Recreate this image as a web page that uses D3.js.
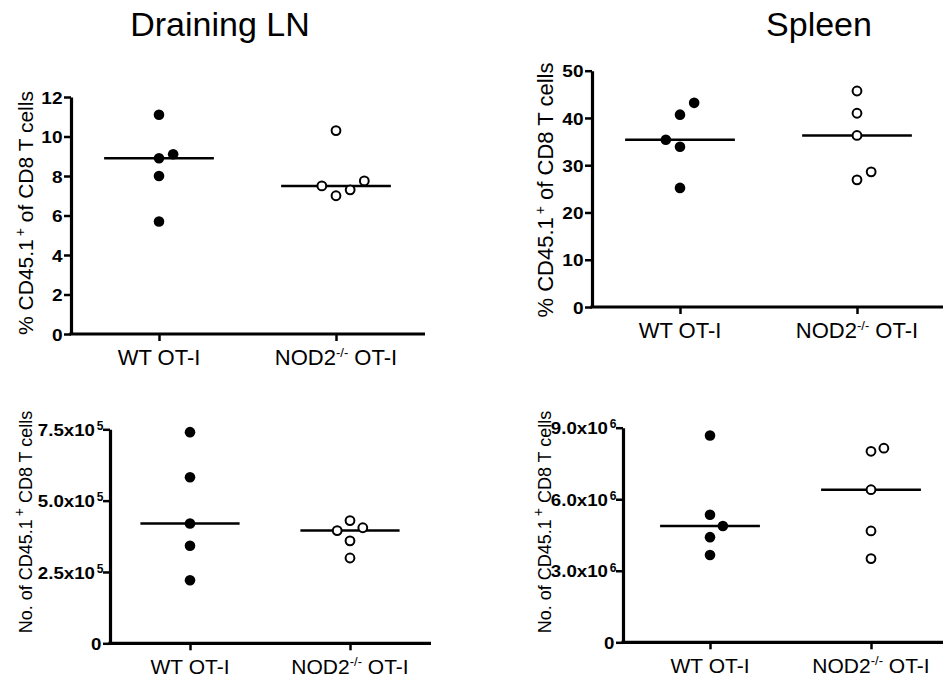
<!DOCTYPE html>
<html>
<head>
<meta charset="utf-8">
<script src="https://cdn.jsdelivr.net/npm/d3@7"></script>
<style>
  body { margin: 0; background: #fff; }
  svg { display: block; }
  text { font-family: "Liberation Sans", Arial, Helvetica, sans-serif; fill: #000; }
</style>
</head>
<body>
<div id="fig"></div>
<script>
// categories and titles
var categories = ["WT OT-I", "NOD2-/- OT-I"];
var columnTitles = ["Draining LN", "Spleen"];
var pctTitle = "% CD45.1+ of CD8 T cells";
var numTitle = "No. of CD45.1+ CD8 T cells";

// % CD45.1+ of CD8 T cells
var lnPctWT = [11.1, 8.9, 8.0, 5.7, 9.1];
var lnPctNOD2 = [10.3, 7.0, 7.3, 7.5, 7.75];
var spPctWT = [40.7, 43.2, 33.9, 35.4, 25.2];
var spPctNOD2 = [45.7, 41.0, 36.3, 26.9, 28.6];

// No. of CD45.1+ CD8 T cells
var lnNumWT = [7.4e5, 5.82e5, 4.2e5, 3.42e5, 2.21e5];
var lnNumNOD2 = [4.30e5, 4.05e5, 3.95e5, 3.59e5, 2.99e5];
var spNumWT = [8.67e6, 5.35e6, 4.41e6, 3.66e6, 4.88e6];
var spNumNOD2 = [8.01e6, 8.14e6, 6.4e6, 4.67e6, 3.51e6];

// tick values
var lnPctTicks = [0, 2, 4, 6, 8, 10, 12];
var spPctTicks = [0, 10, 20, 30, 40, 50];
var lnNumTicks = [0, 2.5e5, 5e5, 7.5e5];
var spNumTicks = [0, 3e6, 6e6, 9e6];

var width = 943, height = 681;

var svg = d3.select("#fig")
  .append("svg")
    .attr("width", width)
    .attr("height", height);

svg.append("rect").attr("width", width).attr("height", height).attr("fill", "#fff");

// column titles
svg.selectAll(".coltitle")
  .data(columnTitles)
  .enter().append("text")
    .attr("x", function(d, i) { return i == 0 ? 220 : 819; })
    .attr("y", 36)
    .attr("text-anchor", "middle")
    .attr("font-size", 34)
    .text(function(d) { return d; });

var panels = [
  {groups: [lnPctWT, lnPctNOD2], ticks: lnPctTicks, sci: false, title: pctTitle,
   left: 71, right: 425, top: 97, bottom: 334, cats: [159, 336],
   titleX: 33, titleY: 213, titleSize: 21, labelSize: 22, tickFont: 17},
  {groups: [spPctWT, spPctNOD2], ticks: spPctTicks, sci: false, title: pctTitle,
   left: 592, right: 943, top: 70.7, bottom: 307, cats: [680, 857],
   titleX: 553, titleY: 190, titleSize: 22, labelSize: 22, tickFont: 17},
  {groups: [lnNumWT, lnNumNOD2], ticks: lnNumTicks, sci: true, title: numTitle,
   left: 110, right: 431, top: 429.3, bottom: 643.3, cats: [190, 350],
   titleX: 31.5, titleY: 522, titleSize: 18, labelSize: 21, tickFont: 17},
  {groups: [spNumWT, spNumNOD2], ticks: spNumTicks, sci: true, title: numTitle,
   left: 623, right: 943, top: 427.7, bottom: 642.3, cats: [710, 871],
   titleX: 551, titleY: 522, titleSize: 18, labelSize: 21, tickFont: 17}
];

// simple beeswarm: points that overlap in the same column get pushed sideways
var swarm = function(values, y, step) {
  var placed = [];
  var sign = 1;
  return values.map(function(v) {
    var yy = y(v);
    var slots = [0, sign, -sign, 2 * sign, -2 * sign, 3 * sign, -3 * sign];
    var slot = 0;
    for (var k = 0; k < slots.length; k++) {
      var hit = placed.some(function(p) { return p.slot == slots[k] && Math.abs(p.y - yy) < 16; });
      if (!hit) { slot = slots[k]; break; }
    }
    if (slot != 0) sign = -sign;
    placed.push({slot: slot, y: yy});
    return slot * step;
  });
};

var drawPanel = function(p) {
  var y = d3.scaleLinear()
    .domain([0, d3.max(p.ticks)])
    .range([p.bottom, p.top]);
  var x = d3.scalePoint()
    .domain(categories)
    .range(p.cats);
  var step = x(categories[1]) - x(categories[0]);

  var g = svg.append("g");

  // y axis
  var sx = p.sci ? 1.1 : 1.12;
  var ya = g.append("g")
    .attr("transform", "translate(" + p.left + ",0)")
    .call(d3.axisLeft(y)
      .tickValues(p.ticks)
      .tickSize(7)
      .tickSizeOuter(0)
      .tickFormat(function(d) {
        if (!p.sci || d == 0) return d3.format("d")(d);
        var e = Math.floor(Math.log10(d));
        return (d / Math.pow(10, e)).toFixed(1) + "x10";
      }));
  ya.attr("font-size", p.tickFont).attr("font-family", null);
  ya.select(".domain").attr("stroke-width", 3.2);
  ya.selectAll(".tick line").attr("stroke-width", 2.5);
  ya.selectAll(".tick text")
    .attr("font-size", p.tickFont)
    .attr("font-weight", "bold")
    .attr("dy", "0.36em")
    .attr("x", function(d) { return -((p.sci && d != 0) ? 15 : 8.5) / sx; })
    .attr("transform", "scale(" + sx + ",1)");
  if (p.sci) {
    ya.selectAll(".tick").filter(function(d) { return d != 0; })
      .append("text")
        .attr("x", -6.5)
        .attr("dy", "0.02em")
        .attr("text-anchor", "end")
        .attr("font-size", 12)
        .attr("font-weight", "bold")
        .text(function(d) { return Math.floor(Math.log10(d)); });
  }

  // x axis
  g.append("line")
    .attr("x1", p.left - 1.6).attr("x2", p.right)
    .attr("y1", p.bottom).attr("y2", p.bottom)
    .attr("stroke", "#000").attr("stroke-width", 3.2);
  var xa = g.append("g")
    .attr("transform", "translate(0," + p.bottom + ")")
    .call(d3.axisBottom(x).tickSize(7).tickFormat(""));
  xa.select(".domain").remove();
  xa.selectAll(".tick line").attr("stroke-width", 2.5);

  categories.forEach(function(c) {
    var parts = c.match(/^(.*?)(-\/-)?( .*)$/);
    var t = g.append("text")
      .attr("x", x(c))
      .attr("y", p.bottom + 31)
      .attr("text-anchor", "middle")
      .attr("font-size", p.labelSize);
    t.append("tspan").text(parts[1]);
    if (parts[2]) {
      t.append("tspan").attr("dy", -8).attr("font-size", 13).text(parts[2]);
      t.append("tspan").attr("dy", 8).text(parts[3]);
    } else {
      t.append("tspan").text(parts[3]);
    }
  });

  // y title
  var tp = p.title.split("+");
  var yt = g.append("text")
    .attr("transform", "translate(" + p.titleX + "," + p.titleY + ") rotate(-90)")
    .attr("text-anchor", "middle")
    .attr("font-size", p.titleSize);
  yt.append("tspan").text(tp[0]);
  yt.append("tspan").attr("dy", -8).attr("dx", 3).attr("font-size", 14).text("+");
  yt.append("tspan").attr("dy", 8).text(tp[1]);

  // medians and dots
  p.groups.forEach(function(vals, i) {
    var cx = x(categories[i]);
    var med = d3.median(vals);
    g.append("line")
      .attr("x1", cx - step * 0.31).attr("x2", cx + step * 0.31)
      .attr("y1", y(med)).attr("y2", y(med))
      .attr("stroke", "#000").attr("stroke-width", 2.5);

    var offs = swarm(vals, y, step * 0.08);
    g.selectAll(null)
      .data(vals)
      .enter().append("circle")
        .attr("cx", function(d, j) { return cx + offs[j]; })
        .attr("cy", function(d) { return y(d); })
        .attr("r", i == 0 ? 5.3 : 4.4)
        .attr("fill", i == 0 ? "#000" : "#fff")
        .attr("stroke", "#000")
        .attr("stroke-width", i == 0 ? 0 : 2);
  });
};

panels.forEach(drawPanel);
</script>
</body>
</html>
